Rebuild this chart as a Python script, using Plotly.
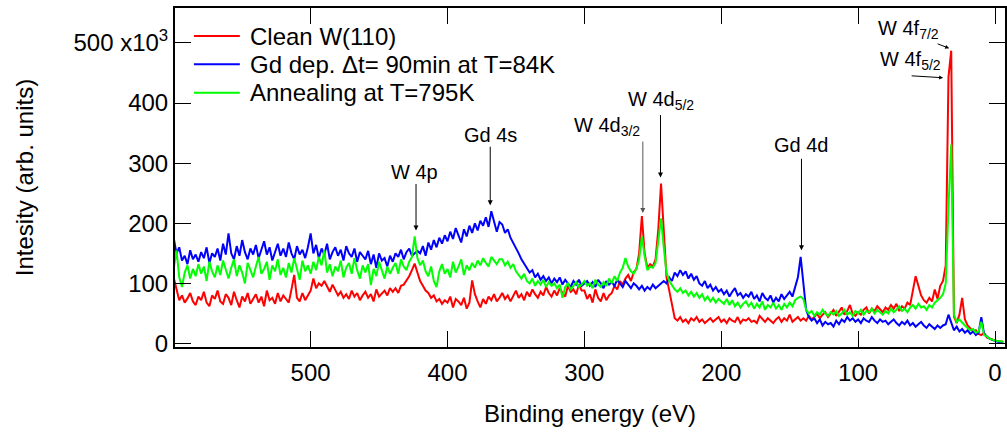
import numpy as np
import plotly.graph_objects as go

# Binding energy grid (eV), 2 eV steps from 600 down to -6
energy = np.arange(600, -8, -2)

# Intensities in units of 10^3 counts, listed from high to low binding energy
clean_w110 = [
    109, 88, 72, 80, 68, 75, 84, 70, 64, 78,
    72, 86, 68, 62, 80, 74, 88, 70, 66, 82,
    76, 64, 86, 72, 60, 78, 70, 84, 66, 74,
    82, 68, 78, 62, 88, 72, 76, 66, 84, 70,
    80, 74, 68, 90, 114, 76, 70, 84, 72, 80,
    88, 108, 92, 100, 96, 104, 94, 86, 98, 90,
    80, 86, 76, 82, 74, 88, 78, 84, 72, 80,
    86, 76, 82, 70, 90, 78, 84, 88, 80, 92,
    86, 92, 84, 96, 98, 104, 112, 122, 133, 118,
    104, 96, 88, 84, 76, 80, 70, 74, 66, 72,
    68, 78, 60, 74, 70, 64, 76, 58, 68, 105,
    82, 70, 60, 74, 66, 78, 72, 82, 70, 76,
    84, 74, 80, 70, 78, 88, 76, 82, 72, 86,
    78, 90, 82, 76, 86, 80, 94, 84, 78, 88,
    80, 92, 84, 78, 96, 86, 90, 82, 98, 88,
    88, 74, 82, 68, 90, 76, 70, 84, 72, 80,
    84, 96, 90, 104, 98, 108, 114, 104, 118, 124,
    150, 212, 150, 126, 132, 128, 140, 190, 266, 180,
    110, 88, 62, 42, 38, 44, 36, 40, 34, 42,
    38, 44, 36, 40, 34, 38, 42, 36, 40, 44,
    36, 40, 34, 42, 38, 36, 44, 34, 40, 38,
    42, 36, 38, 34, 46, 40, 36, 42, 38, 34,
    40, 44, 36, 42, 38, 48, 36, 40, 44, 38,
    42, 38, 46, 40, 44, 50, 42, 48, 52, 44,
    50, 56, 46, 52, 60, 48, 54, 64, 50, 46,
    52, 48, 56, 60, 50, 58, 54, 62, 56, 52,
    60, 56, 64, 58, 66, 54, 62, 58, 68, 64,
    88, 112, 96, 80, 72, 68, 76, 70, 90, 74,
    96, 104, 130, 443, 487, 45, 34, 48, 76, 40,
    30, 24, 20, 22, 16, 14, 18, 10, 8, 6,
    5, 4, 3, 3,
]

gd_deposited = [
    175, 150, 160, 138, 146, 132, 155, 140, 148, 136,
    152, 142, 160, 134, 150, 144, 158, 138, 166, 148,
    183, 150, 140, 162, 146, 172, 152, 140, 158, 148,
    164, 142, 156, 170, 148, 160, 138, 154, 166, 146,
    158, 144, 168, 150, 140, 162, 148, 156, 142, 160,
    183, 150, 164, 142, 158, 148, 166, 140, 152, 160,
    146, 156, 138, 162, 150, 144, 158, 136, 152, 146,
    140, 154, 132, 148, 126, 150, 138, 142, 128, 146,
    136, 150, 144, 156, 140, 152, 158, 146, 150, 154,
    150, 162, 146, 168, 156, 172, 160, 176, 166, 180,
    170, 186, 174, 192, 180, 168, 190, 178, 196, 184,
    200, 188, 204, 196, 210, 194, 220, 205, 186, 202,
    198, 184, 190, 176, 168, 158, 150, 140, 132, 126,
    118, 122, 110, 116, 106, 112, 104, 110, 100, 108,
    102, 110, 98, 106, 100, 94, 104, 98, 106, 96,
    100, 104, 96, 102, 94, 106, 100, 92, 104, 98,
    102, 96, 106, 100, 94, 104, 98, 92, 100, 96,
    90, 96, 88, 94, 90, 98, 92, 96, 100, 104,
    100, 110, 104, 118, 112, 122, 114, 120, 108, 116,
    106, 112, 100, 96, 104, 92, 98, 88, 94, 86,
    90, 82, 88, 78, 86, 92, 80, 84, 76, 82,
    78, 86, 74, 80, 70, 84, 76, 72, 80, 68,
    76, 70, 82, 74, 80, 86, 78, 92, 110, 144,
    96, 56, 44, 38, 42, 34, 40, 30, 36, 32,
    34, 28, 38, 32, 40, 36, 44, 38, 42, 36,
    40, 34, 42, 38, 36, 44, 38, 34, 40, 36,
    38, 32, 36, 40, 34, 30, 36, 32, 38, 30,
    34, 28, 32, 36, 30, 26, 32, 28, 24, 30,
    26, 30, 32, 48, 36, 22, 28, 20, 24, 18,
    22, 16, 20, 14, 18, 44, 16, 12, 8, 6,
    4, 3, 2, 2,
]

annealed = [
    125, 155, 110, 94, 118, 130, 108, 124, 112, 132,
    116, 128, 104, 136, 120, 110, 130, 114, 138, 122,
    108, 126, 140, 112, 130, 118, 100, 134, 122, 110,
    128, 144, 116, 124, 136, 106, 130, 120, 140, 114,
    126, 110, 134, 118, 142, 124, 106, 138, 120, 130,
    116, 136, 122, 144, 130, 155, 118, 132, 112, 128,
    120, 138, 110, 126, 134, 116, 142, 122, 108, 130,
    118, 132, 97, 124, 112, 136, 120, 108, 128, 116,
    126, 134, 116, 140, 128, 122, 136, 144, 178, 142,
    130, 138, 120, 112, 128, 104, 94, 120, 132, 116,
    124, 110, 136, 118, 128, 140, 114, 130, 122, 134,
    126, 138, 130, 142, 134, 128, 144, 138, 132, 140,
    140, 130, 136, 126, 132, 120, 114, 108, 116, 104,
    100, 108, 96, 104, 98, 106, 94, 102, 96, 100,
    92, 98, 76, 94, 100, 90, 96, 102, 94, 98,
    104, 96, 100, 92, 106, 98, 94, 102, 96, 108,
    100, 112, 104, 118, 126, 142, 128, 120, 116, 124,
    140, 178, 146, 122, 128, 126, 134, 170, 208, 160,
    118, 104, 96, 90, 86, 92, 84, 88, 80, 86,
    78, 84, 76, 82, 72, 78, 70, 76, 68, 74,
    70, 66, 74, 64, 72, 62, 68, 60, 66, 70,
    62, 68, 58, 66, 60, 70, 56, 64, 60, 68,
    58, 64, 56, 66, 60, 68, 62, 72, 76, 78,
    74, 56, 50, 54, 46, 52, 48, 56, 50, 46,
    52, 48, 54, 46, 50, 56, 48, 52, 46, 54,
    50, 56, 48, 54, 52, 58, 50, 56, 52, 48,
    54, 50, 58, 52, 56, 62, 54, 58, 52, 60,
    64, 58, 66, 60, 62, 56, 64, 60, 68, 72,
    76, 82, 100, 227, 331, 48, 36, 40, 34, 30,
    26, 22, 24, 18, 20, 36, 14, 12, 8, 6,
    5, 4, 3, 3,
]

series_names = ["Clean W(110)", "Gd dep. \u0394t= 90min at T=84K", "Annealing at T=795K"]
series_colors = ["#ff0000", "#0000ff", "#00ff00"]

y_tickvals = [0, 100, 200, 300, 400, 500]
y_ticktext = ["0", "100", "200", "300", "400", "500 x10<sup>3</sup>"]
x_tickvals = [0, 100, 200, 300, 400, 500]

# Peak labels: (text, label x, label y, arrow tip x, arrow tip y, arrow tail offset px)
peak_labels = [
    ("W 4p", 424, 285, 423, 188, -48),
    ("Gd 4s", 368.8, 346, 368.8, 230, -60),
    ("Gd 4d", 141.4, 330, 141.4, 155, -93),
]

font_family = "Liberation Sans, Arial, sans-serif"

fig = go.Figure()
for name, vals, color in zip(series_names, [clean_w110, gd_deposited, annealed], series_colors):
    fig.add_trace(go.Scatter(
        x=energy, y=vals, mode="lines", name=name, showlegend=False,
        line=dict(color=color, width=2),
    ))

annotations = []
shapes = []

# Key in the upper-left corner: a colour swatch line and its label per series
key_rows_y = [0.9174, 0.8339, 0.7502]
for name, color, ky in zip(series_names, series_colors, key_rows_y):
    shapes.append(dict(type="line", xref="paper", yref="paper",
                       x0=0.0228, x1=0.0781, y0=ky, y1=ky,
                       line=dict(color=color, width=2)))
    annotations.append(dict(x=0.0885, y=ky, xref="paper", yref="paper", text=name,
                            showarrow=False, xanchor="left", yanchor="middle",
                            font=dict(size=24, color="black")))

for text, tx, ty, px, py, off in peak_labels:
    annotations.append(dict(x=tx, y=ty, xref="x", yref="y", text=text, showarrow=False,
                            font=dict(size=20, color="black")))
    annotations.append(dict(x=px, y=py, xref="x", yref="y", text="", showarrow=True,
                            ax=0, ay=off, arrowhead=2, arrowsize=1, arrowwidth=1,
                            arrowcolor="black", standoff=0))

# W 4d doublet
annotations += [
    dict(x=258, y=361, xref="x", yref="y", text="W 4d<sub>3/2</sub>", showarrow=False,
         xanchor="right", font=dict(size=20, color="black")),
    dict(x=257.3, y=217, xref="x", yref="y", text="", showarrow=True, ax=0, ay=-73,
         arrowhead=2, arrowsize=1, arrowwidth=1, arrowcolor="#555555", standoff=0),
    dict(x=243.8, y=404, xref="x", yref="y", text="W 4d<sub>5/2</sub>", showarrow=False,
         font=dict(size=20, color="black")),
    dict(x=244.4, y=276, xref="x", yref="y", text="", showarrow=True, ax=0, ay=-64,
         arrowhead=2, arrowsize=1, arrowwidth=1, arrowcolor="black", standoff=0),
]

# W 4f doublet
annotations += [
    dict(x=39.4, y=522, xref="x", yref="y", text="W 4f<sub>7/2</sub>", showarrow=False,
         xanchor="right", font=dict(size=20, color="black")),
    dict(x=33.5, y=491, xref="x", yref="y", text="", showarrow=True, ax=-13, ay=-5,
         arrowhead=2, arrowsize=0.8, arrowwidth=1, arrowcolor="black", standoff=0),
    dict(x=37.9, y=470, xref="x", yref="y", text="W 4f<sub>5/2</sub>", showarrow=False,
         xanchor="right", font=dict(size=20, color="black")),
    dict(x=37.9, y=442, xref="x", yref="y", text="", showarrow=True, ax=-33, ay=-2,
         arrowhead=2, arrowsize=0.8, arrowwidth=1, arrowcolor="black", standoff=0),
]

axis_common = dict(
    showline=True, linecolor="black", linewidth=2, mirror="ticks",
    ticks="inside", ticklen=16, tickwidth=1, tickcolor="black",
    showgrid=False, zeroline=False,
    tickfont=dict(size=24, color="black", family=font_family),
)

fig.update_layout(
    width=1007, height=434,
    margin=dict(l=175, r=0, t=8, b=87),
    paper_bgcolor="white", plot_bgcolor="white",
    font=dict(family=font_family, color="black"),
    xaxis=dict(
        range=[599.1, -7.3], tickvals=x_tickvals, ticklabelstandoff=3,
        title=dict(text="Binding energy (eV)", font=dict(size=24), standoff=20),
        **axis_common,
    ),
    yaxis=dict(
        range=[-5.8, 558], tickvals=y_tickvals, ticktext=y_ticktext,
        title=dict(text="Intesity (arb. units)", font=dict(size=24), standoff=33),
        **axis_common,
    ),
    showlegend=False,
    shapes=shapes,
    annotations=annotations,
)

fig.write_html("out.html")
